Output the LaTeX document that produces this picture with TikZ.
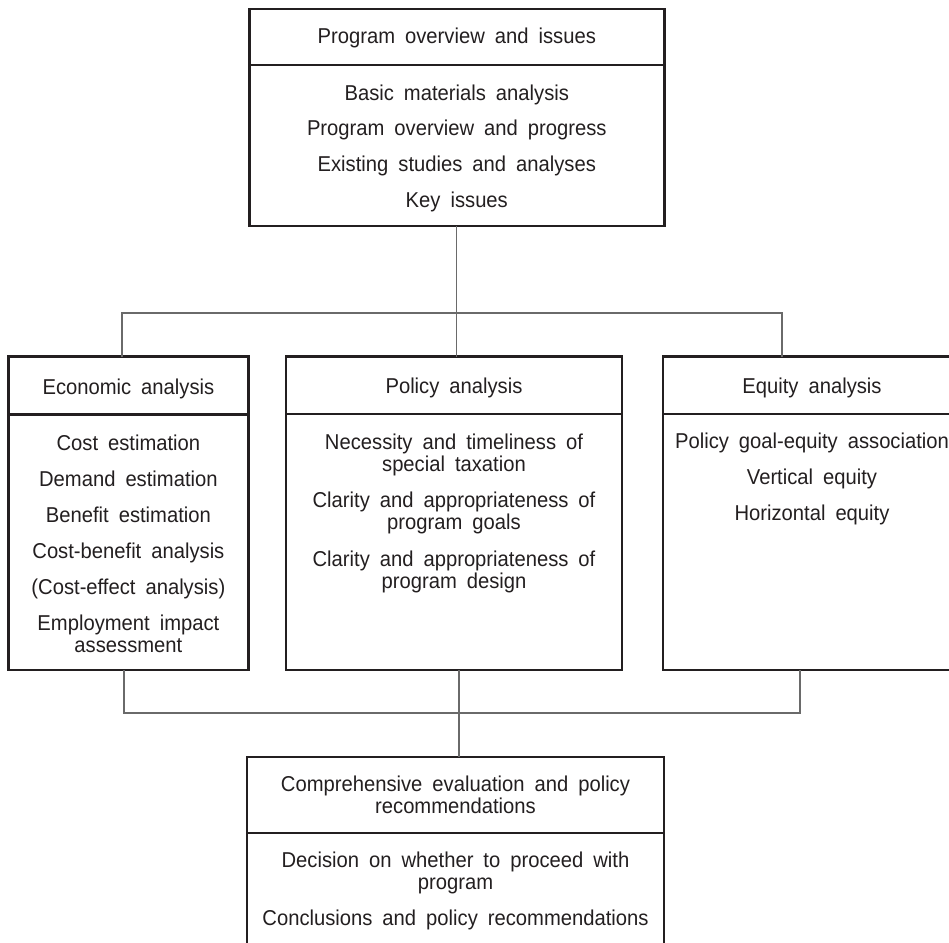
\documentclass[tikz,border=0pt]{standalone}
\usepackage{fontspec}
\setmainfont{Liberation Sans}[FakeStretch=0.94]
\usetikzlibrary{calc}
\definecolor{ink}{HTML}{231F20}
\definecolor{wire}{HTML}{6A6A6A}
% centred block of lines, baseline on its first line
\newcommand{\blocktext}[1]{\parbox[t]{440pt}{\centering\fontsize{21.5}{22}\selectfont\spaceskip=10pt\relax #1}}
\tikzset{
  panel/.style={draw=ink, line width=2.6pt, rectangle, inner sep=0pt, outer sep=0pt, fill=none},
  rule/.style={draw=ink, line width=2.6pt},
  label/.style={inner sep=0pt, outer sep=0pt, anchor=base, text=ink},
  wiring/.style={draw=wire, line width=1.2pt}
}
\begin{document}
\begin{tikzpicture}[x=1pt, y=-1pt]
\useasboundingbox (0,0) rectangle (949,942);
\clip (0,0) rectangle (949,942);
\fill[white] (0,0) rectangle (949,942);

% boxes
\node[panel, minimum width=415pt, minimum height=217pt] (top) at (456.8,117.5) {};
\node[panel, minimum width=239.8pt, minimum height=313.3pt] (eco) at (128.4,513.35) {};
\node[panel, minimum width=336pt, minimum height=313.3pt] (pol) at (454,513.35) {};
\node[panel, minimum width=298pt, minimum height=313.3pt] (equ) at (812,513.35) {};
\node[panel, minimum width=417pt, minimum height=203pt] (fin) at (455.5,858.5) {};

% header dividers
\draw[rule] (top.west |- 0,65) -- (top.east |- 0,65);
\draw[rule] (eco.west |- 0,414.5) -- (eco.east |- 0,414.5);
\draw[rule] (pol.west |- 0,414) -- (pol.east |- 0,414);
\draw[rule] (equ.west |- 0,414) -- (equ.east |- 0,414);
\draw[rule] (fin.west |- 0,833) -- (fin.east |- 0,833);

% texts
\node[label] (toph) at (456.8,44) {\blocktext{Program overview and issues}};
\node[label] (topb) at (456.8,100) {\blocktext{Basic materials analysis\\[13.7pt]
  Program overview and progress\\[13.7pt]
  Existing studies and analyses\\[13.7pt]
  Key issues}};

\node[label] (ecoh) at (128.4,394) {\blocktext{Economic analysis}};
\node[label] (ecob) at (128.4,450) {\blocktext{Cost estimation\\[14pt]
  Demand estimation\\[14pt]
  Benefit estimation\\[14pt]
  Cost-benefit analysis\\[14pt]
  (Cost-effect analysis)\\[14pt]
  Employment impact\\ assessment}};

\node[label] (polh) at (454,393.5) {\blocktext{Policy analysis}};
\node[label] (polb) at (454,449) {\blocktext{Necessity and timeliness of\\ special taxation\\[14.5pt]
  Clarity and appropriateness of\\ program goals\\[14.5pt]
  Clarity and appropriateness of\\ program design}};

\node[label] (equh) at (812,393.5) {\blocktext{Equity analysis}};
\node[label] (equb) at (812,448) {\blocktext{Policy goal-equity association\\[14pt]
  Vertical equity\\[14pt]
  Horizontal equity}};

\node[label] (finh) at (455.5,791) {\blocktext{Comprehensive evaluation and policy\\ recommendations}};
\node[label] (finb) at (455.5,867) {\blocktext{Decision on whether to proceed with\\ program\\[14pt]
  Conclusions and policy recommendations}};

% connectors
\coordinate (jl) at (122,313);
\coordinate (jr) at (782,313);
\coordinate (kl) at (124,713);
\coordinate (kc) at (459,713);
\coordinate (kr) at (800,713);

\draw[wiring] (top.south) -- (top.south |- pol.north);
\draw[wiring] (jl |- eco.north) -- (jl) -- (jr) -- (jr |- equ.north);
\draw[wiring] (kl |- eco.south) -- (kl) -- (kr) -- (kr |- equ.south);
\draw[wiring] (kc |- pol.south) -- (kc |- fin.north);
\end{tikzpicture}
\end{document}
